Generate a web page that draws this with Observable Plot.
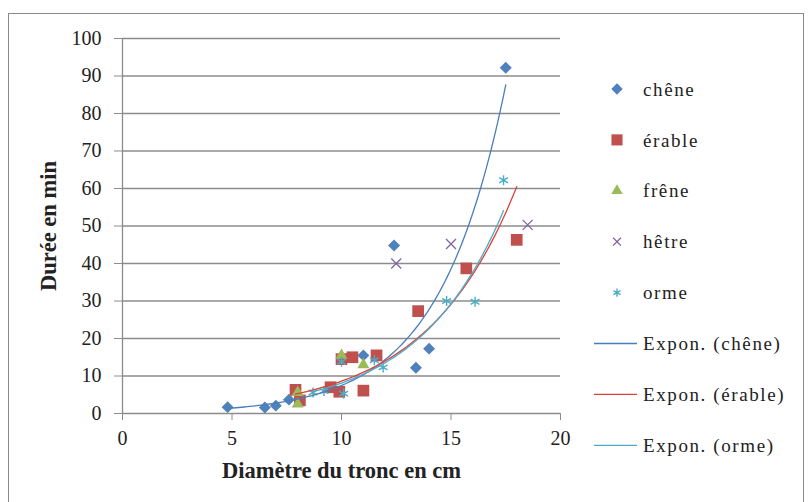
<!DOCTYPE html>
<html><head><meta charset="utf-8">
<script src="https://cdn.jsdelivr.net/npm/d3@7"></script>
<script src="https://cdn.jsdelivr.net/npm/@observablehq/plot@0.6"></script>
<style>
body{margin:0;background:#fff;}
#wrap{position:relative;width:809px;height:502px;overflow:hidden;font-family:"Liberation Serif","Times New Roman",serif;}
#frame{position:absolute;left:8px;top:13px;width:796px;height:520px;border:1px solid #8a8a8a;box-sizing:border-box;}
#chart{position:absolute;left:0;top:0;}
#legend{position:absolute;left:0;top:0;pointer-events:none;}
g[aria-label="x-axis label"] text, g[aria-label="y-axis label"] text{font-weight:bold;font-size:22.5px;}
</style></head>
<body>
<div id="wrap"><div id="frame"></div><div id="chart"></div><svg id="legend" width="809" height="502"></svg></div>
<script>
// ---- data ----
const species = ["chêne", "érable", "frêne", "hêtre", "orme"];
const cheneX = [4.8, 6.5, 7.0, 7.6, 11.0, 12.4, 13.4, 14.0, 17.5];
const cheneY = [1.7, 1.6, 2.1, 3.7, 15.5, 44.8, 12.2, 17.3, 92.2];
const erableX = [7.9, 8.1, 9.5, 9.9, 10.0, 10.5, 11.0, 11.6, 13.5, 15.7, 18.0];
const erableY = [6.3, 3.5, 7.0, 5.8, 14.5, 15.0, 6.1, 15.5, 27.3, 38.7, 46.3];
const freneX = [8.0, 8.0, 10.0, 11.0];
const freneY = [5.6, 2.5, 15.5, 13.0];
const hetreX = [12.5, 15.0, 18.5];
const hetreY = [40.0, 45.2, 50.3];
const ormeX = [8.7, 9.2, 10.1, 10.0, 11.5, 11.9, 14.8, 16.1, 17.4];
const ormeY = [5.6, 6.0, 5.3, 13.8, 14.2, 12.3, 30.0, 29.8, 62.2];
const xTicks = [0, 5, 10, 15, 20];
const yTicks = [0, 10, 20, 30, 40, 50, 60, 70, 80, 90, 100];
const trendNames = ["Expon. (chêne)", "Expon. (érable)", "Expon. (orme)"];

// ---- styles ----
const colors = {"chêne":"#4F81BD","érable":"#C0504D","frêne":"#9BBB59","hêtre":"#8064A2","orme":"#4BACC6"};
const trendColors = ["#4a7ebb", "#e0403a", "#4bacc6"];
const gridColor = "#8c8c8c";

const rows = (name, xs, ys) => xs.map((x, i) => ({species: name, x, y: ys[i]}));
const chene = rows("chêne", cheneX, cheneY);
const erable = rows("érable", erableX, erableY);
const frene = rows("frêne", freneX, freneY);
const hetre = rows("hêtre", hetreX, hetreY);
const orme = rows("orme", ormeX, ormeY);

// Exponential trend line (least squares on ln y), as in the spreadsheet
function expTrend(data) {
  const mx = d3.mean(data, d => d.x), my = d3.mean(data, d => Math.log(d.y));
  const b = d3.sum(data, d => (d.x - mx) * (Math.log(d.y) - my)) / d3.sum(data, d => (d.x - mx) ** 2);
  const a = Math.exp(my - b * mx);
  const [x0, x1] = d3.extent(data, d => d.x);
  return d3.range(0, 101).map(i => { const x = x0 + (x1 - x0) * i / 100; return {x, y: a * Math.exp(b * x)}; });
}
const trends = [expTrend(chene), expTrend(erable), expTrend(orme)];

const dotStyle = {
  "chêne": {symbol: "diamond2", r: 5.4, fill: colors["chêne"], stroke: "none"},
  "érable": {symbol: "square", r: 6.6, fill: colors["érable"], stroke: "none"},
  "frêne": {symbol: "triangle", r: 4.5, fill: colors["frêne"], stroke: "none"},
  "hêtre": {symbol: "times", r: 4.6, fill: "none", stroke: colors["hêtre"], strokeWidth: 1.3},
  "orme": {symbol: "asterisk", r: 4.8, fill: "none", stroke: colors["orme"], strokeWidth: 1.4}
};

const chart = Plot.plot({
  width: 809, height: 502,
  marginLeft: 122, marginRight: 249, marginTop: 38, marginBottom: 89,
  style: {fontFamily: "Liberation Serif, Times New Roman, serif", fontSize: "20px", color: "#222", background: "transparent", overflow: "visible"},
  x: {domain: [0, 20]},
  y: {domain: [0, 100]},
  marks: [
    Plot.ruleY(yTicks.slice(1), {stroke: gridColor, strokeWidth: 1.3}),
    Plot.ruleY([0], {stroke: gridColor, strokeWidth: 1.3}),
    Plot.ruleX([0], {stroke: gridColor, strokeWidth: 1.3}),
    Plot.axisY({ticks: yTicks, tickSize: 8, tickPadding: 13, stroke: gridColor, label: "Durée en min", labelAnchor: "center", labelArrow: "none", labelOffset: 82}),
    Plot.axisX({ticks: xTicks, tickSize: 7, tickPadding: 10, stroke: gridColor, label: "Diamètre du tronc en cm", labelAnchor: "center", labelArrow: "none", labelOffset: 64}),
    ...[chene, erable, frene, hetre, orme].map(d => Plot.dot(d, {x: "x", y: "y", ...dotStyle[d[0].species]})),
    ...trends.map((t, i) => Plot.line(t, {x: "x", y: "y", stroke: trendColors[i], strokeWidth: 1.3}))
  ]
});
document.getElementById("chart").appendChild(chart);

// ---- legend ----
const lg = d3.select("#legend");
const allItems = [...species, ...trendNames];
allItems.forEach((name, i) => {
  const cy = 89 + i * 50.9;
  if (i < species.length) {
    const s = dotStyle[name];
    const sym = {diamond2: d3.symbolDiamond2, square: d3.symbolSquare, triangle: d3.symbolTriangle, times: d3.symbolTimes, asterisk: d3.symbolAsterisk}[s.symbol];
    const rr = s.r * (i >= 3 ? 0.8 : 0.95);
    lg.append("path").attr("d", d3.symbol(sym, rr * rr * Math.PI)()).attr("transform", `translate(617,${cy})`)
      .attr("fill", s.fill).attr("stroke", s.stroke).attr("stroke-width", s.strokeWidth || 0);
  } else {
    lg.append("line").attr("x1", 594).attr("x2", 637).attr("y1", cy).attr("y2", cy)
      .attr("stroke", trendColors[i - species.length]).attr("stroke-width", 1.3);
  }
  lg.append("text").attr("x", 643).attr("y", cy).attr("dy", "0.35em")
    .attr("font-size", 19).attr("letter-spacing", "1.6px").attr("fill", "#222").text(name);
});
</script>
</body></html>
